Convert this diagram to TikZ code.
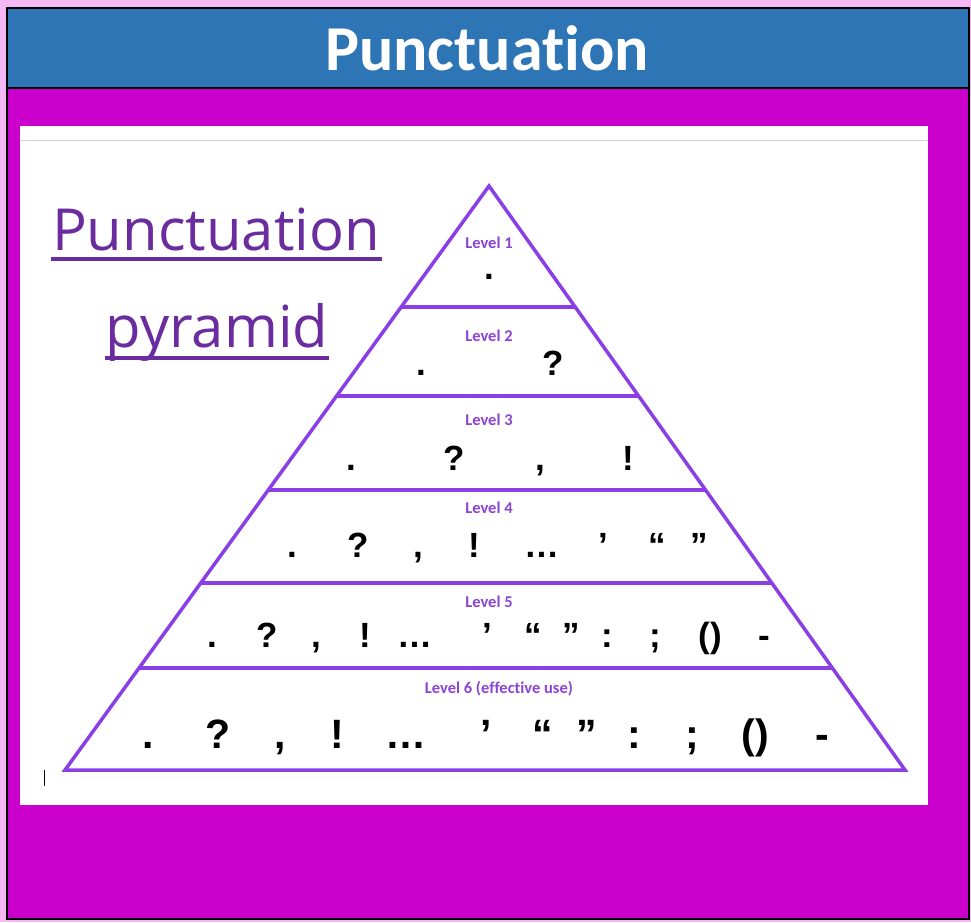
\documentclass[tikz,border=0pt]{standalone}
\usepackage{fontspec}
\usetikzlibrary{calc}
\setmainfont{Carlito}[Ligatures={NoCommon}]
\newfontfamily\headfont{Open Sans}
\newfontfamily\symfont{Liberation Sans}
\definecolor{barblue}{HTML}{2E75B6}
\definecolor{mag}{HTML}{CC00CC}
\definecolor{pyr}{HTML}{8A3FE6}
\definecolor{headp}{HTML}{6A2C9E}
\definecolor{lvl}{HTML}{8B44D6}
\definecolor{edgepink}{HTML}{F4B8F4}
\tikzset{
  pyrline/.style={draw=pyr, line width=3.5pt},
  lvllabel/.style={text=lvl, font=\bfseries\fontsize{16.5}{18}\selectfont, anchor=base, inner sep=0pt},
  symA/.style={font=\symfont\bfseries\fontsize{35}{40}\selectfont, anchor=base, inner sep=0pt},
  symB/.style={font=\symfont\bfseries\fontsize{41}{46}\selectfont, anchor=base, inner sep=0pt},
  heading/.style={text=headp, font=\headfont\fontsize{58}{66}\selectfont, anchor=base, inner sep=0pt},
  uline/.style={draw=headp, line width=3.5pt},
}
\begin{document}
\begin{tikzpicture}[x=1pt,y=-1pt]
\useasboundingbox (0,0) rectangle (971,922);
% background
\fill[edgepink] (0,0) rectangle (971,922);
\fill[mag] (7,88) rectangle (969,919);
\fill[barblue] (7,8) rectangle (969,88);
\draw[black, line width=2.5pt] (7,88) -- (969,88);
\draw[black, line width=2.5pt] (7,8) rectangle (969,919);
\node[text=white, font=\bfseries\fontsize{64}{72}\selectfont, anchor=base, inner sep=0pt] (title) at (487,70) {Punctuation};
% white panel
\fill[white] (20,126) rectangle (928,805);
\draw[gray!35, line width=1pt] (20,140) -- (928,140);
% heading
\node[heading] (h1) at (216,250) {Punctuation};
\node[heading] (h2) at (217,347) {pyramid};
\draw[uline] (51,259) -- (382,259);
\draw[uline] (105,358) -- (329,358);
% pyramid
\coordinate (A) at (489,186);
\coordinate (BL) at (65,770);
\coordinate (BR) at (905,770);
\draw[pyrline, line join=miter] (A) -- (BL) -- (BR) -- cycle;
\foreach \t/\n in {0.2072/1, 0.3596/2, 0.5205/3, 0.6798/4, 0.8253/5}{
  \coordinate (L\n) at ($(A)!\t!(BL)$);
  \coordinate (R\n) at ($(A)!\t!(BR)$);
  \draw[pyrline] (L\n) -- (R\n);
}
% labels
\node[lvllabel] (lv1) at (489,248) {Level 1};
\node[lvllabel] (lv2) at (489,341) {Level 2};
\node[lvllabel] (lv3) at (489,425) {Level 3};
\node[lvllabel] (lv4) at (489,513) {Level 4};
\node[lvllabel] (lv5) at (489,607) {Level 5};
\node[lvllabel] (lv6) at (499,693) {Level 6 (effective use)};
% symbols
\node[symA] (s1a) at (489,279) {.};
\foreach \x/\s [count=\i] in {421/{.}, 553/{?}}{
  \node[symA] (s2-\i) at (\x,375) {\s};}
\foreach \x/\s [count=\i] in {351/{.}, 454/{?}, 540/{,}, 628/{!}}{
  \node[symA] (s3-\i) at (\x,470) {\s};}
\foreach \x/\s [count=\i] in {292/{.}, 358/{?}, 418/{,}, 474/{!}, 542/{…}, 603/{’}, 657/{“}, 699/{”}}{
  \node[symA] (s4-\i) at (\x,557) {\s};}
\foreach \x/\s [count=\i] in {212/{.}, 267/{?}, 316/{,}, 365/{!}, 415/{…}, 487/{’}, 533/{“}, 571/{”}, 607/{:}, 655/{;}, 710/{()}, 764/{-}}{
  \node[symA] (s5-\i) at (\x,647) {\s};}
\foreach \x/\s [count=\i] in {148/{.}, 218/{?}, 280/{,}, 337/{!}, 406/{…}, 486/{’}, 543/{“}, 587/{”}, 634/{:}, 692/{;}, 755/{()}, 822/{-}}{
  \node[symB] (s6-\i) at (\x,748) {\s};}
% cursor
\draw[black, line width=0.8pt] (44,770) -- (44,786);
\end{tikzpicture}
\end{document}
